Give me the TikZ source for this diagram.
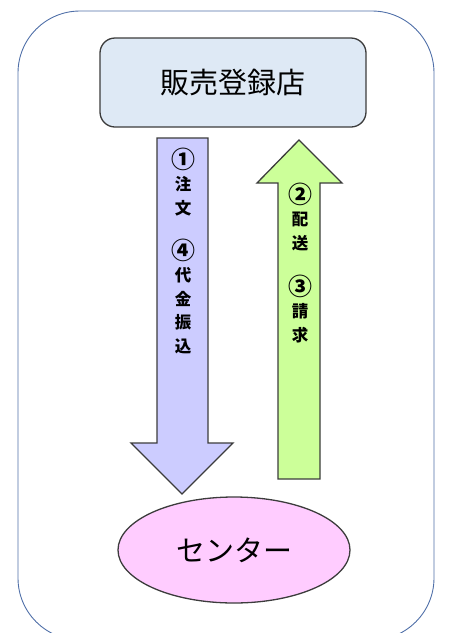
\documentclass[tikz,border=0pt]{standalone}
\usepackage{fontspec}
\newfontfamily\cjk{Noto Sans CJK JP}
\usetikzlibrary{shapes.geometric}
\definecolor{outerc}{HTML}{4F6FA8}
\definecolor{boxfill}{HTML}{DEE9F5}
\definecolor{edgec}{HTML}{3C3C3C}
\definecolor{bluefill}{HTML}{CCCCFF}
\definecolor{greenfill}{HTML}{CCFF99}
\definecolor{pinkfill}{HTML}{FFCCFF}
\newcommand{\circnum}[1]{\raisebox{-1.5pt}{\scalebox{1.45}{#1}}}
\tikzset{
  outerframe/.style={draw=outerc, line width=0.9pt, rounded corners=62pt},
  shopbox/.style={draw=edgec, fill=boxfill, line width=1.3pt, rounded corners=15pt},
  bigarrow/.style={draw=edgec, line width=1.3pt, line join=miter},
  arrowtext/.style={font=\cjk\bfseries\fontsize{16.5}{23.5}\selectfont, align=center, inner sep=0pt},
  bigtext/.style={font=\cjk\fontsize{29}{34}\selectfont, inner sep=0pt}
}
\begin{document}
\begin{tikzpicture}[x=1pt,y=-1pt]
\useasboundingbox (0,0) rectangle (451,633);
\clip (0,0) rectangle (451,633);
\draw[outerframe] (18,11) rectangle (434,640);
\draw[shopbox] (100,38) rectangle (366,127);
\node[bigtext] (shop) at (233,83) {販売登録店};
% down arrow (blue)
\draw[bigarrow, fill=bluefill] (157,138) -- (208,138) -- (208,443) -- (233,443) -- (182,494) -- (131,443) -- (157,443) -- cycle;
% up arrow (green)
\draw[bigarrow, fill=greenfill] (278,479) -- (320,479) -- (320,183) -- (342,183) -- (299,140) -- (257,183) -- (278,183) -- cycle;
\node[draw=edgec, fill=pinkfill, line width=1.3pt, ellipse, minimum width=232pt, minimum height=106pt, inner sep=0pt] (center) at (234,550) {};
\node[bigtext] (centertext) at (234,550) {センター};
\node[arrowtext] (t1) at (183,182) {\circnum{①}\\注\\文};
\node[arrowtext] (t4) at (183,296.5) {\circnum{④}\\代\\金\\振\\込};
\node[arrowtext] (t2) at (300,217) {\circnum{②}\\配\\送};
\node[arrowtext] (t3) at (300,309) {\circnum{③}\\請\\求};
\end{tikzpicture}
\end{document}
